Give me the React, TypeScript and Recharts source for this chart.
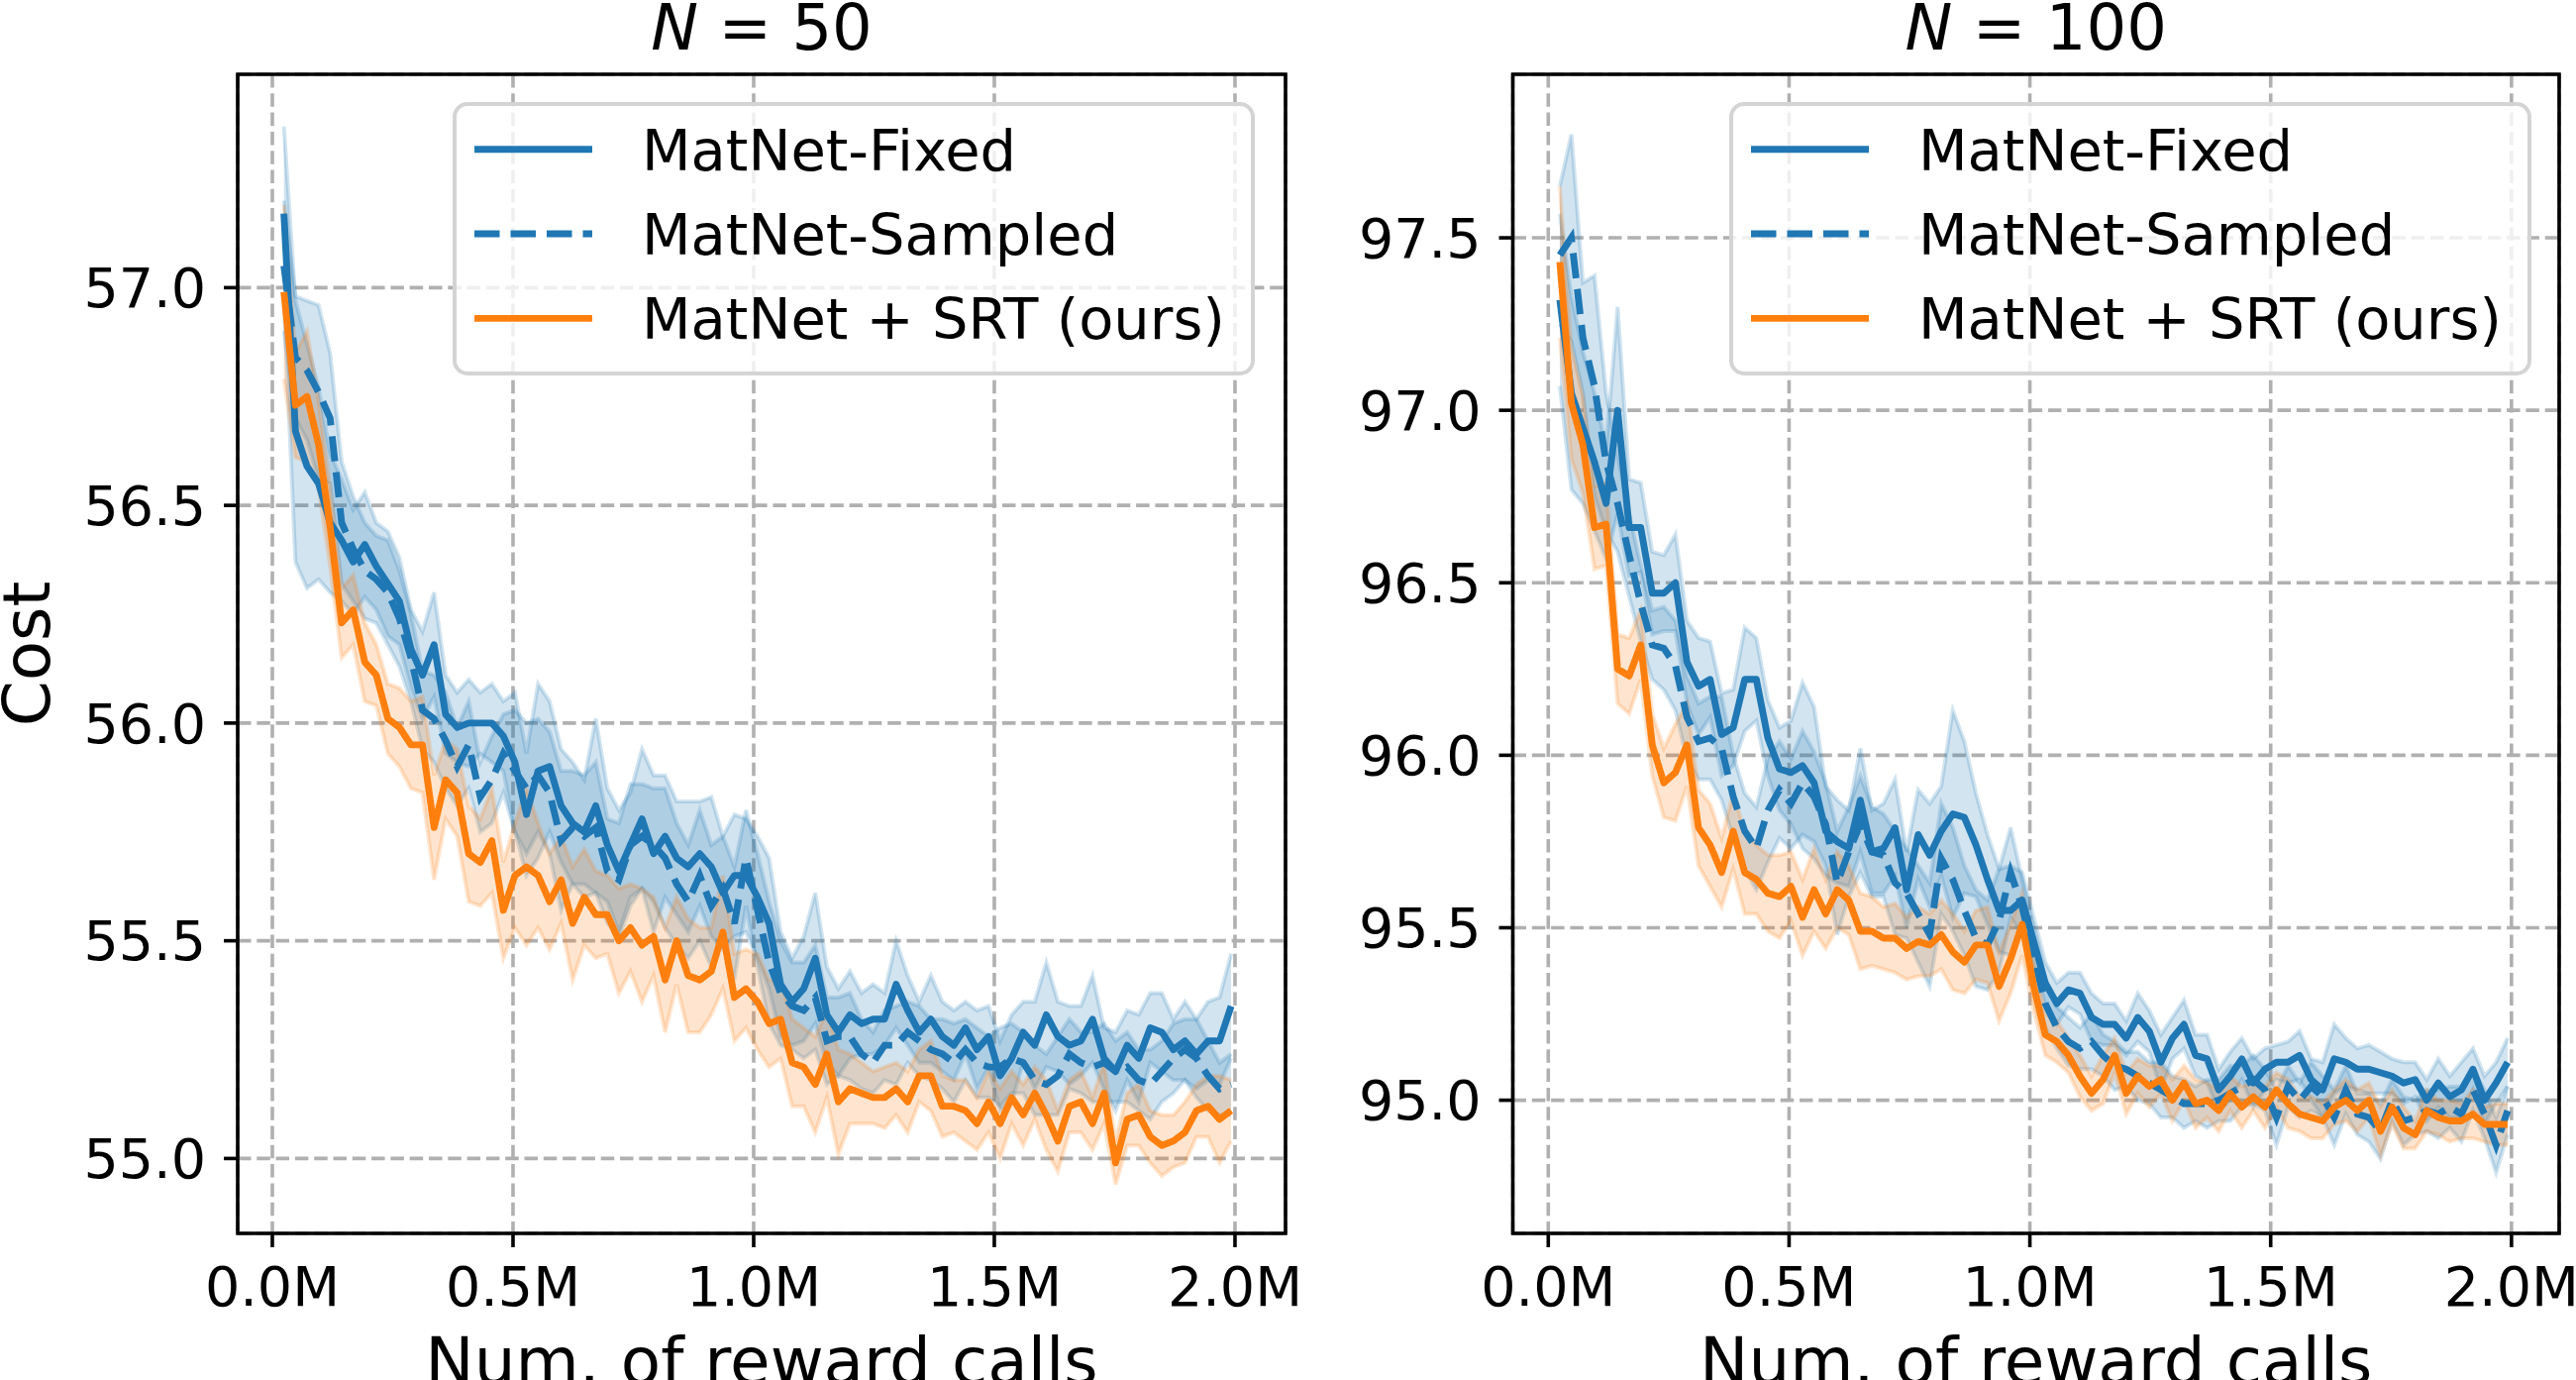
import React from 'react';
import { ComposedChart, Line, Area, XAxis, YAxis, CartesianGrid, ReferenceArea, Legend } from 'recharts';

const BLUE = '#1f77b4';
const ORANGE = '#ff7f0e';
const FONT = '"DejaVu Sans", Verdana, sans-serif';
const H = 1393;
const LW = 6.9;
const DASH = '25.5 11';

// spacing of the checkpoints, in millions of reward calls
const STEP_M = 0.024;

const X_TICKS = [0, 0.5, 1.0, 1.5, 2.0];
const Y_TICKS_50 = [55.0, 55.5, 56.0, 56.5, 57.0];
const Y_TICKS_100 = [95.0, 95.5, 96.0, 96.5, 97.0, 97.5];
const SERIES_NAMES = ['MatNet-Fixed', 'MatNet-Sampled', 'MatNet + SRT (ours)'];
const TITLES = ['50', '100'];

// ---------- N = 50 ----------
const fixed50 = [
  57.17, 56.67, 56.59, 56.55, 56.46, 56.42, 56.37, 56.41, 56.36, 56.32,
  56.28, 56.17, 56.11, 56.18, 56.02, 55.99, 56.0, 56.0, 56.0, 55.97,
  55.91, 55.79, 55.89, 55.9, 55.81, 55.77, 55.75, 55.81, 55.72, 55.66,
  55.72, 55.78, 55.7, 55.74, 55.69, 55.67, 55.7, 55.67, 55.61, 55.65,
  55.65, 55.6, 55.54, 55.4, 55.36, 55.39, 55.46, 55.33, 55.29, 55.33,
  55.31, 55.32, 55.32, 55.4, 55.34, 55.29, 55.32, 55.28, 55.26, 55.3,
  55.25, 55.28, 55.19, 55.23, 55.29, 55.26, 55.33, 55.28, 55.26, 55.27,
  55.32, 55.23, 55.2, 55.26, 55.23, 55.3, 55.29, 55.25, 55.27, 55.24,
  55.27, 55.27, 55.35,
];
const sampled50 = [
  57.05, 56.84, 56.81, 56.76, 56.7, 56.46, 56.4, 56.35, 56.33, 56.3,
  56.24, 56.15, 56.03, 56.01, 55.96, 55.9, 55.95, 55.83, 55.87, 55.93,
  55.89, 55.85, 55.88, 55.84, 55.73, 55.76, 55.74, 55.76, 55.66, 55.64,
  55.72, 55.74, 55.72, 55.69, 55.63, 55.59, 55.65, 55.58, 55.62, 55.54,
  55.69, 55.57, 55.45, 55.38, 55.35, 55.34, 55.37, 55.27, 55.28, 55.28,
  55.24, 55.22, 55.26, 55.26, 55.29, 55.27, 55.25, 55.24, 55.22, 55.25,
  55.22, 55.21, 55.21, 55.23, 55.22, 55.18, 55.17, 55.19, 55.24, 55.22,
  55.21, 55.22, 55.2, 55.21, 55.18, 55.17, 55.2, 55.23, 55.25, 55.23,
  55.19, 55.16, 55.17,
];
const srt50 = [
  56.99, 56.73, 56.75, 56.64, 56.45, 56.23, 56.26, 56.14, 56.11, 56.01,
  55.99, 55.95, 55.95, 55.76, 55.87, 55.84, 55.7, 55.68, 55.73, 55.57,
  55.65, 55.67, 55.65, 55.59, 55.64, 55.54, 55.6, 55.56, 55.56, 55.5,
  55.53, 55.49, 55.51, 55.41, 55.5, 55.42, 55.41, 55.43, 55.52, 55.37,
  55.39, 55.36, 55.31, 55.32, 55.22, 55.21, 55.17, 55.24, 55.13, 55.16,
  55.15, 55.14, 55.14, 55.16, 55.13, 55.19, 55.19, 55.12, 55.12, 55.11,
  55.08, 55.13, 55.08, 55.14, 55.1, 55.15, 55.1, 55.04, 55.12, 55.13,
  55.08, 55.15, 54.99, 55.09, 55.1, 55.05, 55.03, 55.04, 55.06, 55.11,
  55.12, 55.09, 55.11,
];
// half widths of the shaded bands
const fixed50Spread = [
  0.2, 0.3, 0.28, 0.22, 0.16, 0.14, 0.12, 0.12, 0.1, 0.12,
  0.1, 0.09, 0.1, 0.12, 0.09, 0.08, 0.1, 0.07, 0.09, 0.08,
  0.16, 0.14, 0.2, 0.15, 0.13, 0.14, 0.12, 0.2, 0.13, 0.14,
  0.12, 0.16, 0.18, 0.14, 0.13, 0.15, 0.12, 0.16, 0.13, 0.14,
  0.13, 0.14, 0.15, 0.12, 0.1, 0.12, 0.15, 0.11, 0.1, 0.1,
  0.07, 0.08, 0.06, 0.1, 0.08, 0.07, 0.1, 0.08, 0.08, 0.06,
  0.09, 0.07, 0.08, 0.1, 0.07, 0.1, 0.12, 0.08, 0.09, 0.08,
  0.1, 0.07, 0.09, 0.08, 0.1, 0.08, 0.09, 0.07, 0.09, 0.08,
  0.09, 0.1, 0.12,
];
const sampled50Spread = [
  0.15, 0.14, 0.16, 0.2, 0.15, 0.14, 0.12, 0.11, 0.1, 0.12,
  0.11, 0.1, 0.09, 0.1, 0.11, 0.09, 0.1, 0.08, 0.1, 0.09,
  0.14, 0.15, 0.13, 0.14, 0.16, 0.13, 0.14, 0.15, 0.12, 0.13,
  0.14, 0.12, 0.13, 0.16, 0.14, 0.13, 0.15, 0.14, 0.12, 0.13,
  0.11, 0.13, 0.14, 0.12, 0.1, 0.11, 0.12, 0.1, 0.09, 0.1,
  0.08, 0.07, 0.08, 0.09, 0.07, 0.08, 0.07, 0.08, 0.09, 0.07,
  0.08, 0.07, 0.09, 0.08, 0.07, 0.08, 0.07, 0.09, 0.08, 0.07,
  0.08, 0.09, 0.07, 0.08, 0.07, 0.08, 0.07, 0.08, 0.07, 0.09,
  0.08, 0.06, 0.07,
];
const srt50Spread = [
  0.2, 0.12, 0.15, 0.1, 0.09, 0.08, 0.08, 0.09, 0.07, 0.08,
  0.09, 0.1, 0.11, 0.12, 0.09, 0.1, 0.11, 0.1, 0.12, 0.11,
  0.12, 0.18, 0.12, 0.11, 0.1, 0.13, 0.11, 0.1, 0.09, 0.12,
  0.1, 0.13, 0.09, 0.12, 0.1, 0.13, 0.12, 0.1, 0.13, 0.1,
  0.09, 0.11, 0.1, 0.09, 0.1, 0.09, 0.11, 0.1, 0.12, 0.08,
  0.07, 0.06, 0.07, 0.06, 0.07, 0.06, 0.08, 0.07, 0.06, 0.07,
  0.06, 0.07, 0.08, 0.06, 0.07, 0.06, 0.08, 0.07, 0.06, 0.07,
  0.06, 0.07, 0.05, 0.06, 0.07, 0.06, 0.07, 0.06, 0.07, 0.06,
  0.07, 0.1, 0.07,
];

// ---------- N = 100 ----------
const fixed100 = [
  97.32, 97.05, 96.95, 96.85, 96.73, 97.0, 96.66, 96.66, 96.47, 96.47,
  96.5, 96.27, 96.2, 96.22, 96.06, 96.08, 96.22, 96.22, 96.05, 95.96,
  95.95, 95.97, 95.92, 95.78, 95.75, 95.73, 95.87, 95.72, 95.73, 95.79,
  95.61, 95.77, 95.71, 95.78, 95.83, 95.82, 95.74, 95.64, 95.55, 95.55,
  95.58, 95.46, 95.34, 95.28, 95.32, 95.31, 95.24, 95.22, 95.22, 95.18,
  95.24, 95.2, 95.11, 95.18, 95.22, 95.13, 95.12, 95.03, 95.07, 95.12,
  95.05, 95.09, 95.11, 95.11, 95.13, 95.06, 95.03, 95.12, 95.11, 95.09,
  95.09, 95.08, 95.07, 95.05, 95.06, 95.0, 95.05, 95.01, 95.03, 95.09,
  95.0, 95.05, 95.11,
];
const sampled100 = [
  97.45, 97.5, 97.21, 97.07, 96.85, 96.73, 96.58, 96.44, 96.32, 96.31,
  96.26, 96.11, 96.04, 96.05, 96.02, 95.88, 95.78, 95.73, 95.84, 95.9,
  95.86, 95.92, 95.88, 95.8, 95.63, 95.72, 95.8, 95.72, 95.71, 95.63,
  95.6, 95.54, 95.48, 95.7, 95.64, 95.55, 95.47, 95.45, 95.52, 95.66,
  95.56, 95.42, 95.28, 95.21, 95.17, 95.15, 95.17, 95.13, 95.1, 95.09,
  95.07, 95.05, 95.03, 95.01, 94.99, 94.99, 94.99, 95.0, 95.02, 95.04,
  95.06, 95.03, 94.95, 95.04, 95.0, 95.04, 95.01, 94.95, 95.03, 94.96,
  94.95, 94.91, 95.0, 94.94, 94.95, 94.97, 94.96, 94.98, 94.96, 95.03,
  94.96, 94.87, 94.97,
];
const srt100 = [
  97.43, 97.02, 96.9, 96.66, 96.67, 96.25, 96.23, 96.32, 96.03, 95.92,
  95.95, 96.03, 95.79, 95.74, 95.66, 95.78, 95.66, 95.64, 95.6, 95.59,
  95.62, 95.53, 95.61, 95.54, 95.61, 95.58, 95.49, 95.49, 95.47, 95.47,
  95.44, 95.46, 95.45, 95.48, 95.43, 95.4, 95.45, 95.45, 95.33, 95.41,
  95.51, 95.33, 95.19, 95.17, 95.13, 95.07, 95.02, 95.06, 95.13, 95.02,
  95.07, 95.04, 95.06, 95.0, 95.05, 94.99, 95.0, 94.97, 95.02, 94.98,
  95.01, 94.98, 95.03, 94.99, 94.96, 94.95, 94.94, 94.98, 95.0, 94.97,
  95.0, 94.91, 94.98, 94.92, 94.9, 94.97, 94.95, 94.94, 94.94, 94.96,
  94.93, 94.93, 94.93,
];
const fixed100Spread = [
  0.25, 0.28, 0.22, 0.2, 0.16, 0.3, 0.14, 0.13, 0.12, 0.11,
  0.14, 0.12, 0.14, 0.11, 0.12, 0.11, 0.15, 0.12, 0.11, 0.12,
  0.15, 0.24, 0.22, 0.13, 0.12, 0.11, 0.15, 0.12, 0.13, 0.14,
  0.11, 0.13, 0.15, 0.13, 0.3, 0.22, 0.15, 0.13, 0.12, 0.13,
  0.08, 0.07, 0.06, 0.06, 0.05, 0.06, 0.07, 0.06, 0.06, 0.05,
  0.07, 0.06, 0.08, 0.06, 0.07, 0.06, 0.07, 0.06, 0.07, 0.06,
  0.07, 0.06, 0.05, 0.06, 0.07, 0.06, 0.08, 0.1, 0.07, 0.06,
  0.07, 0.06, 0.05, 0.06, 0.05, 0.06, 0.07, 0.06, 0.08, 0.06,
  0.07, 0.06, 0.07,
];
const sampled100Spread = [
  0.2, 0.3, 0.16, 0.32, 0.2, 0.14, 0.12, 0.11, 0.1, 0.12,
  0.13, 0.12, 0.11, 0.12, 0.15, 0.12, 0.11, 0.12, 0.15, 0.14,
  0.13, 0.15, 0.13, 0.12, 0.15, 0.13, 0.14, 0.13, 0.12, 0.15,
  0.13, 0.14, 0.15, 0.16, 0.15, 0.13, 0.14, 0.13, 0.15, 0.13,
  0.08, 0.07, 0.07, 0.06, 0.07, 0.06, 0.08, 0.06, 0.07, 0.05,
  0.07, 0.06, 0.08, 0.06, 0.07, 0.05, 0.07, 0.06, 0.08, 0.06,
  0.07, 0.06, 0.08, 0.06, 0.05, 0.07, 0.06, 0.08, 0.07, 0.06,
  0.07, 0.08, 0.06, 0.07, 0.05, 0.06, 0.07, 0.06, 0.08, 0.06,
  0.07, 0.08, 0.07,
];
const srt100Spread = [
  0.22, 0.16, 0.14, 0.12, 0.12, 0.1, 0.11, 0.1, 0.09, 0.1,
  0.14, 0.12, 0.11, 0.12, 0.1, 0.11, 0.12, 0.1, 0.11, 0.12,
  0.1, 0.11, 0.12, 0.1, 0.11, 0.1, 0.11, 0.1, 0.09, 0.1,
  0.09, 0.1, 0.09, 0.1, 0.11, 0.09, 0.1, 0.11, 0.1, 0.1,
  0.09, 0.07, 0.06, 0.06, 0.05, 0.06, 0.05, 0.07, 0.05, 0.06,
  0.05, 0.06, 0.04, 0.06, 0.05, 0.07, 0.05, 0.06, 0.05, 0.06,
  0.04, 0.06, 0.05, 0.07, 0.05, 0.06, 0.05, 0.05, 0.06, 0.06,
  0.05, 0.07, 0.05, 0.06, 0.04, 0.06, 0.05, 0.06, 0.05, 0.07,
  0.05, 0.06, 0.06,
];

function buildRows(f: number[], s: number[], r: number[], hf: number[], hs: number[], hr: number[]) {
  return f.map((v, k) => ({
    x: Math.round((k + 1) * STEP_M * 1000) / 1000,
    fixed: v,
    sampled: s[k],
    srt: r[k],
    fixedBand: [v - hf[k], v + hf[k]],
    sampledBand: [s[k] - hs[k], s[k] + hs[k]],
    srtBand: [r[k] - hr[k], r[k] + hr[k]],
  }));
}

const rows50 = buildRows(fixed50, sampled50, srt50, fixed50Spread, sampled50Spread, srt50Spread);
const rows100 = buildRows(fixed100, sampled100, srt100, fixed100Spread, sampled100Spread, srt100Spread);

const LEG_W = 810;
const LEG_H = 276;

function LegendBox() {
  const rowsY = [47.7, 133, 218.4];
  const styles = [
    { color: BLUE, dash: undefined as string | undefined },
    { color: BLUE, dash: DASH },
    { color: ORANGE, dash: undefined as string | undefined },
  ];
  return (
    <svg width={LEG_W} height={LEG_H} style={{ display: 'block' }}>
      <rect x={2} y={2} width={LEG_W - 4} height={LEG_H - 4} rx={13} ry={13}
        fill="rgba(255,255,255,0.8)" stroke="#d4d4d4" strokeWidth={4} />
      {SERIES_NAMES.map((name, k) => (
        <g key={name}>
          <line x1={22} x2={141} y1={rowsY[k]} y2={rowsY[k]} stroke={styles[k].color}
            strokeWidth={LW} strokeDasharray={styles[k].dash} />
          <text x={191} y={rowsY[k] + 21} fontSize={57.5} fontFamily={FONT} fill="#000">{name}</text>
        </g>
      ))}
    </svg>
  );
}

type PanelProps = {
  left: number;
  width: number;
  rows: any[];
  xDom: [number, number];
  yDom: [number, number];
  yTicks: number[];
  marginLeft: number;
  marginRight: number;
  title: string;
  showCost: boolean;
  legendLeft: number;
};

function Panel(p: PanelProps) {
  const plotL = p.marginLeft + 100;
  const plotR = p.width - p.marginRight;
  const cx = (plotL + plotR) / 2;
  const tickStyle = { fill: '#000', fontSize: 55.5, fontFamily: FONT };
  const xLabel = () => (
    <g>
      <text x={cx} y={1397} textAnchor="middle" fontSize={66} fontFamily={FONT} fill="#000">Num. of reward calls</text>
      <text x={cx} y={50} textAnchor="middle" fontSize={64} fontFamily={FONT} fill="#000">
        <tspan fontStyle="italic">N</tspan>
        <tspan> = {p.title}</tspan>
      </text>
    </g>
  );
  const yLabel = () =>
    p.showCost ? (
      <text x={50} y={660} transform="rotate(-90, 50, 660)" textAnchor="middle" fontSize={66} fontFamily={FONT} fill="#000">Cost</text>
    ) : null;
  return (
    <div style={{ position: 'absolute', left: p.left, top: 0, width: p.width, height: H }}>
      <ComposedChart width={p.width} height={H} data={p.rows}
        margin={{ top: 75, right: p.marginRight, bottom: 0, left: p.marginLeft }}>
        <CartesianGrid stroke="#b0b0b0" strokeWidth={3.6} strokeDasharray="13.5 5.8" />
        <XAxis dataKey="x" type="number" domain={p.xDom} ticks={X_TICKS} allowDataOverflow interval={0}
          tickFormatter={(v: number) => v.toFixed(1) + 'M'} axisLine={false}
          tickLine={{ stroke: '#000', strokeWidth: 3.6 }} tickSize={14} tickMargin={20}
          tick={tickStyle} height={148} label={xLabel} />
        <YAxis type="number" domain={p.yDom} ticks={p.yTicks} allowDataOverflow interval={0}
          tickFormatter={(v: number) => v.toFixed(1)} axisLine={false}
          tickLine={{ stroke: '#000', strokeWidth: 3.6 }} tickSize={14} tickMargin={18}
          tick={tickStyle} width={100} label={yLabel} />
        <Area type="linear" dataKey="fixedBand" stroke={BLUE} strokeOpacity={0.2} strokeWidth={4}
          fill={BLUE} fillOpacity={0.2} isAnimationActive={false} dot={false} activeDot={false} />
        <Area type="linear" dataKey="sampledBand" stroke={BLUE} strokeOpacity={0.2} strokeWidth={4}
          fill={BLUE} fillOpacity={0.2} isAnimationActive={false} dot={false} activeDot={false} />
        <Area type="linear" dataKey="srtBand" stroke={ORANGE} strokeOpacity={0.2} strokeWidth={4}
          fill={ORANGE} fillOpacity={0.2} isAnimationActive={false} dot={false} activeDot={false} />
        <Line type="linear" dataKey="fixed" stroke={BLUE} strokeWidth={LW} dot={false} activeDot={false}
          strokeLinejoin="round" isAnimationActive={false} />
        <Line type="linear" dataKey="sampled" stroke={BLUE} strokeWidth={LW} strokeDasharray={DASH} dot={false}
          activeDot={false} isAnimationActive={false} />
        <Line type="linear" dataKey="srt" stroke={ORANGE} strokeWidth={LW} dot={false} activeDot={false}
          strokeLinejoin="round" isAnimationActive={false} />
        <ReferenceArea x1={p.xDom[0]} x2={p.xDom[1]} y1={p.yDom[0]} y2={p.yDom[1]} ifOverflow="visible"
          fill="none" fillOpacity={0} stroke="#000" strokeWidth={3.6} />
        <Legend layout="horizontal" align="center" verticalAlign="middle" content={() => <LegendBox />}
          wrapperStyle={{ position: 'absolute', left: p.legendLeft, top: 103, width: LEG_W, height: LEG_H, margin: 0, padding: 0 }} />
      </ComposedChart>
    </div>
  );
}

export default function App() {
  return (
    <div style={{ position: 'absolute', left: 0, top: 0, width: 2601, height: H, background: '#fff', overflow: 'hidden' }}>
      <Panel left={0} width={1310} rows={rows50} xDom={[-0.072, 2.105]} yDom={[54.828, 57.49]}
        yTicks={Y_TICKS_50} marginLeft={140} marginRight={12} title={TITLES[0]} showCost legendLeft={457} />
      <Panel left={1300} width={1301} rows={rows100} xDom={[-0.0736, 2.099]} yDom={[94.614, 97.974]}
        yTicks={Y_TICKS_100} marginLeft={127.5} marginRight={17} title={TITLES[1]} showCost={false} legendLeft={446} />
    </div>
  );
}
